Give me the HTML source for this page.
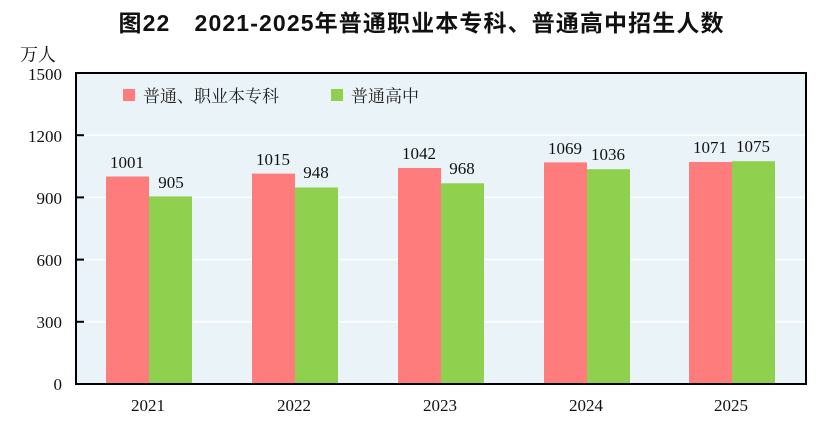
<!DOCTYPE html>
<html><head><meta charset="utf-8"><style>body{margin:0;background:#fff}svg{display:block}</style></head><body>
<svg width="827" height="426" xmlns="http://www.w3.org/2000/svg" font-family="'Liberation Serif','Noto Serif CJK SC',serif">
<text x="421" y="31" text-anchor="middle" font-size="23" font-weight="bold" font-family="'Liberation Sans','Noto Sans CJK SC',sans-serif" fill="#111" textLength="605">图22　2021-2025年普通职业本专科、普通高中招生人数</text>
<rect x="76" y="73" width="730" height="311" fill="#eaf4f8"/>
<g stroke="#fff" stroke-width="1.5">
<line x1="76" y1="135.2" x2="806" y2="135.2"/><line x1="76" y1="197.4" x2="806" y2="197.4"/><line x1="76" y1="259.6" x2="806" y2="259.6"/><line x1="76" y1="321.8" x2="806" y2="321.8"/>
</g>
<g stroke="#000" stroke-width="2">
<line x1="76" y1="135.2" x2="84" y2="135.2"/><line x1="76" y1="197.4" x2="84" y2="197.4"/><line x1="76" y1="259.6" x2="84" y2="259.6"/><line x1="76" y1="321.8" x2="84" y2="321.8"/>
</g>
<g fill="#fe7c7c">
<rect x="106" y="176.5" width="43" height="207.5"/>
<rect x="252" y="173.6" width="43" height="210.4"/>
<rect x="398" y="168" width="43" height="216"/>
<rect x="544" y="162.4" width="43" height="221.6"/>
<rect x="689" y="162" width="43" height="222"/>
</g>
<g fill="#8fd14f">
<rect x="149" y="196.4" width="43" height="187.6"/>
<rect x="295" y="187.5" width="43" height="196.5"/>
<rect x="441" y="183.3" width="43" height="200.7"/>
<rect x="587" y="169.2" width="43" height="214.8"/>
<rect x="732" y="161.2" width="43" height="222.8"/>
</g>
<rect x="76" y="73" width="730" height="311" fill="none" stroke="#000" stroke-width="2"/>
<g font-size="17" fill="#111" text-anchor="middle">
<text x="127" y="168">1001</text><text x="171" y="188">905</text>
<text x="273" y="165">1015</text><text x="316" y="178">948</text>
<text x="419" y="159">1042</text><text x="462" y="174">968</text>
<text x="565" y="154">1069</text><text x="608" y="160">1036</text>
<text x="710" y="153">1071</text><text x="753" y="152">1075</text>
<text x="148" y="411">2021</text><text x="294" y="411">2022</text><text x="440" y="411">2023</text><text x="586" y="411">2024</text><text x="731" y="411">2025</text>
</g>
<g font-size="17" fill="#111" text-anchor="end">
<text x="62" y="80">1500</text><text x="62" y="142">1200</text><text x="62" y="204">900</text><text x="62" y="266">600</text><text x="62" y="328">300</text><text x="62" y="390">0</text>
</g>
<text x="20" y="61" font-size="18" fill="#111" font-family="'Noto Serif CJK SC',serif">万人</text>
<rect x="123" y="89" width="12" height="12" fill="#fe7c7c"/>
<text x="143" y="102" font-size="17" fill="#222" font-family="'Noto Serif CJK SC',serif">普通、职业本专科</text>
<rect x="331" y="89" width="12" height="12" fill="#8fd14f"/>
<text x="351" y="102" font-size="17" fill="#222" font-family="'Noto Serif CJK SC',serif">普通高中</text>
</svg>
</body></html>
